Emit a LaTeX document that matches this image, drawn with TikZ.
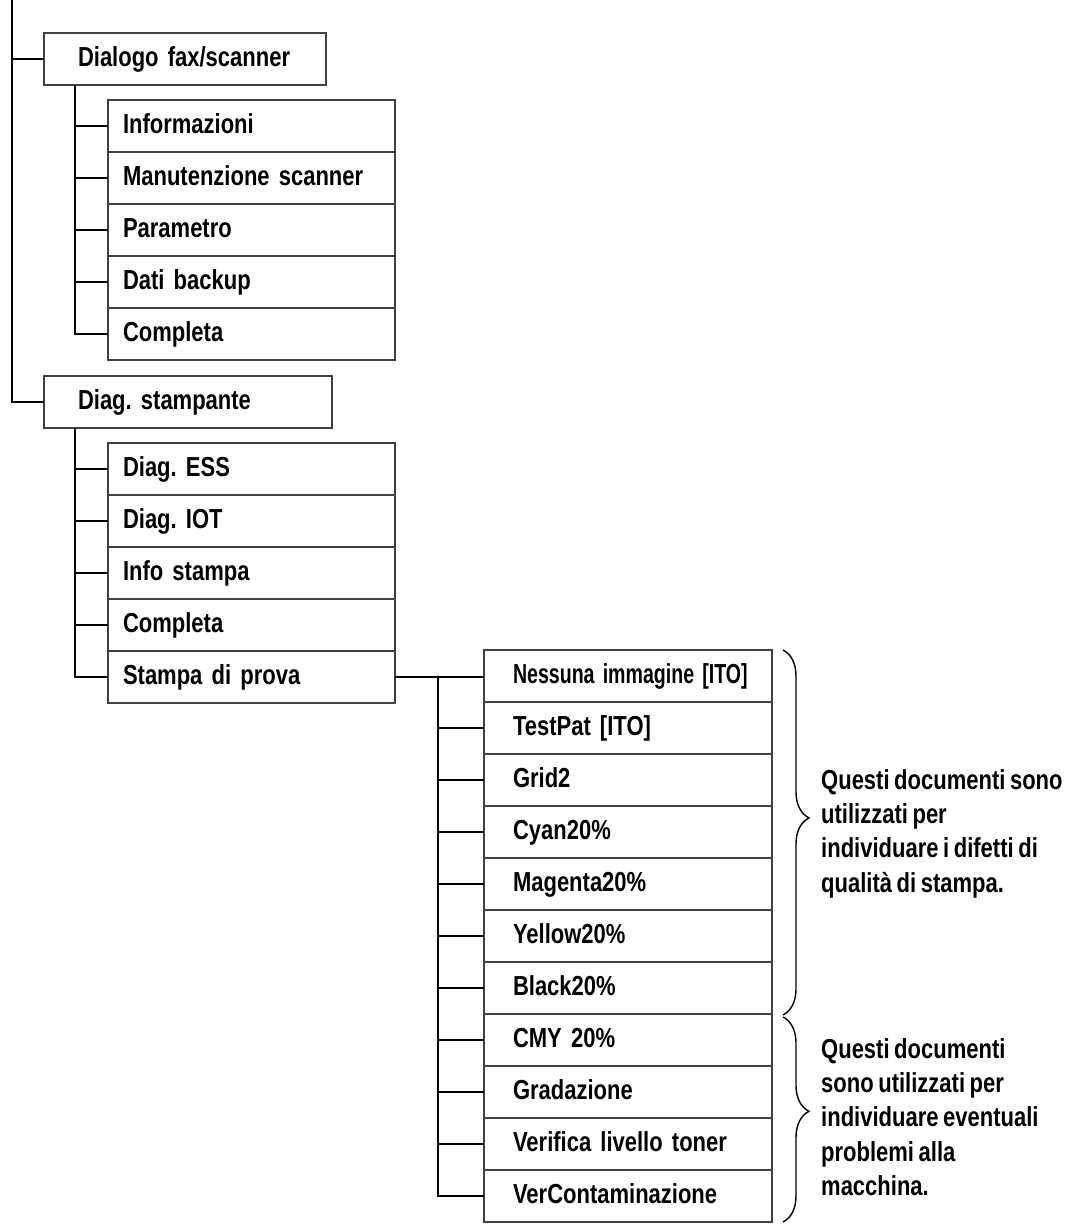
\documentclass[tikz,border=0pt]{standalone}
\usepackage{fontspec}
\setmainfont{Liberation Sans}[FakeStretch=0.8, WordSpace=0.75]
\frenchspacing
\usetikzlibrary{decorations.pathreplacing}
\begin{document}
\begin{tikzpicture}[x=1pt,y=-1pt,
  every node/.style={font=\bfseries\fontsize{27.5}{34.3}\selectfont},
  conn/.style={line width=1.8pt, black},
  boxbase/.style={draw=black!75, line width=1.2pt, anchor=north west, outer sep=0pt, inner ysep=0pt, text height=20pt, text depth=6pt, align=left},
  topbox/.style={boxbase, minimum height=52pt, inner xsep=34pt},
  subbox/.style={boxbase, minimum height=52pt, text width=257pt, inner xsep=15pt},
  testbox/.style={boxbase, minimum height=52pt, text width=230pt, inner xsep=29pt},
  note/.style={anchor=north west, align=left, inner sep=0pt},
  bracestyle/.style={line width=1.4pt, decorate, decoration={brace, amplitude=26pt, aspect=0.46}}
]
\useasboundingbox (0,0) rectangle (1079,1224);
% top-level boxes
\node[topbox, text width=214pt] (dfs) at (44,33) {Dialogo fax/scanner};
\node[topbox, text width=220pt] (ds) at (44,376) {Diag. stampante};
% fax/scanner children
\node[subbox] (a1) at (108,100) {Informazioni};
\node[subbox] (a2) at (a1.south west) {Manutenzione scanner};
\node[subbox] (a3) at (a2.south west) {Parametro};
\node[subbox] (a4) at (a3.south west) {Dati backup};
\node[subbox] (a5) at (a4.south west) {Completa};
% printer children
\node[subbox] (b1) at (108,443) {Diag. ESS};
\node[subbox] (b2) at (b1.south west) {Diag. IOT};
\node[subbox] (b3) at (b2.south west) {Info stampa};
\node[subbox] (b4) at (b3.south west) {Completa};
\node[subbox] (b5) at (b4.south west) {Stampa di prova};
% test print children
\node[testbox] (t1) at (484,650) {\scalebox{0.89}[1]{Nessuna immagine [ITO]}};
\node[testbox] (t2) at (t1.south west) {TestPat [ITO]};
\node[testbox] (t3) at (t2.south west) {Grid2};
\node[testbox] (t4) at (t3.south west) {Cyan20\%};
\node[testbox] (t5) at (t4.south west) {Magenta20\%};
\node[testbox] (t6) at (t5.south west) {Yellow20\%};
\node[testbox] (t7) at (t6.south west) {Black20\%};
\node[testbox] (t8) at (t7.south west) {CMY 20\%};
\node[testbox] (t9) at (t8.south west) {Gradazione};
\node[testbox] (t10) at (t9.south west) {Verifica livello toner};
\node[testbox] (t11) at (t10.south west) {VerContaminazione};
% trunk
\coordinate (top) at (12,0);
\draw[conn] (top) |- (ds.west);
\draw[conn] (dfs.west) -- (dfs.west -| top);
% fax/scanner sub tree
\coordinate (va) at (75,0);
\draw[conn] (dfs.south -| va) |- (a5.west);
\foreach \i in {1,...,4} \draw[conn] (a\i.west) -- (a\i.west -| va);
% printer sub tree
\draw[conn] (ds.south -| va) |- (b5.west);
\foreach \i in {1,...,4} \draw[conn] (b\i.west) -- (b\i.west -| va);
% test print sub tree
\coordinate (vt) at (438,0);
\draw[conn] (b5.east) -- (b5.east -| t1.west);
\draw[conn] (b5.east -| vt) |- (t11.west);
\foreach \i in {2,...,10} \draw[conn] (t\i.west) -- (t\i.west -| vt);
% braces
\coordinate (br1a) at (783,650);
\coordinate (br1b) at (783,1015);
\coordinate (br2a) at (783,1017);
\coordinate (br2b) at (783,1222);
\draw[bracestyle] (br1a) -- (br1b);
\draw[bracestyle] (br2a) -- (br2b);
% notes
\node[note] (n1) at (821,769) {Questi documenti sono\\utilizzati per\\individuare i difetti di\\qualità di stampa.};
\node[note] (n2) at (821,1038) {Questi documenti\\sono utilizzati per\\individuare eventuali\\problemi alla\\macchina.};
\end{tikzpicture}
\end{document}
